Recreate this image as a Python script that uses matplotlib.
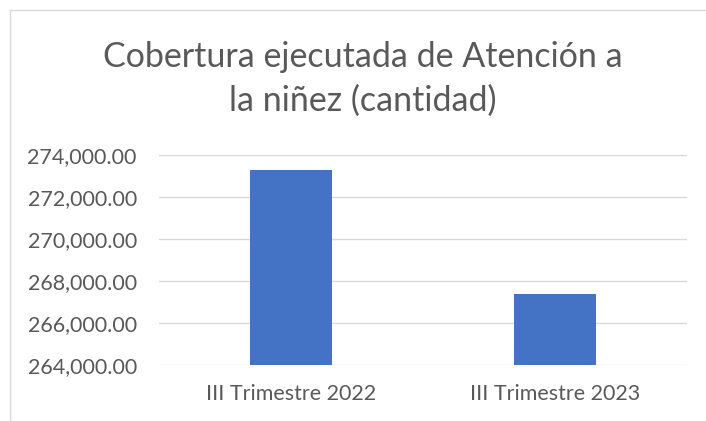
import matplotlib
matplotlib.use("Agg")
import matplotlib.pyplot as plt
from matplotlib.lines import Line2D
from matplotlib.ticker import FuncFormatter

categorias = ["III Trimestre 2022", "III Trimestre 2023"]
valores = [273290, 267380]
y_ticks = [264000, 266000, 268000, 270000, 272000, 274000]
titulo = ["Cobertura ejecutada de Atención a", "la niñez (cantidad)"]

W, H = 706, 421
plt.rcParams['font.family'] = ['Lato', 'DejaVu Sans']
gris = '#595959'

fig = plt.figure(figsize=(W / 100, H / 100), dpi=100)
fig.patch.set_facecolor('white')

# borde del grafico (recortado a la derecha y abajo)
borde = '#d9d9d9'
fig.add_artist(Line2D([10 / W, 1], [1 - 10 / H, 1 - 10 / H], transform=fig.transFigure, color=borde, lw=1))
fig.add_artist(Line2D([10 / W, 10 / W], [0, 1 - 10 / H], transform=fig.transFigure, color=borde, lw=1))

ax = fig.add_axes([159 / W, 1 - 365 / H, (687 - 159) / W, (365 - 155) / H])
x = range(len(categorias))
ax.bar(x, valores, width=0.31, color='#4472C4', zorder=3)
ax.set_xlim(-0.5, 1.5)
ax.set_ylim(264000, 274000)
ax.set_yticks(y_ticks)
ax.yaxis.set_major_formatter(FuncFormatter(lambda v, p: f"{v:,.2f}"))
ax.set_xticks(list(x))
ax.set_xticklabels(categorias)
ax.grid(axis='y', color='#d9d9d9', lw=1, zorder=0)
for s in ax.spines.values():
    s.set_visible(False)
ax.tick_params(length=0, labelsize=15.5, colors=gris)
ax.tick_params(axis='y', pad=16)
ax.tick_params(axis='x', pad=14)

# titulo en dos lineas
fig.text(363 / W, 1 - 67 / H, titulo[0], ha='center', va='baseline', fontsize=24.5, color=gris)
fig.text(363 / W, 1 - 111 / H, titulo[1], ha='center', va='baseline', fontsize=24.5, color=gris)

fig.savefig("out.png", dpi=100)
